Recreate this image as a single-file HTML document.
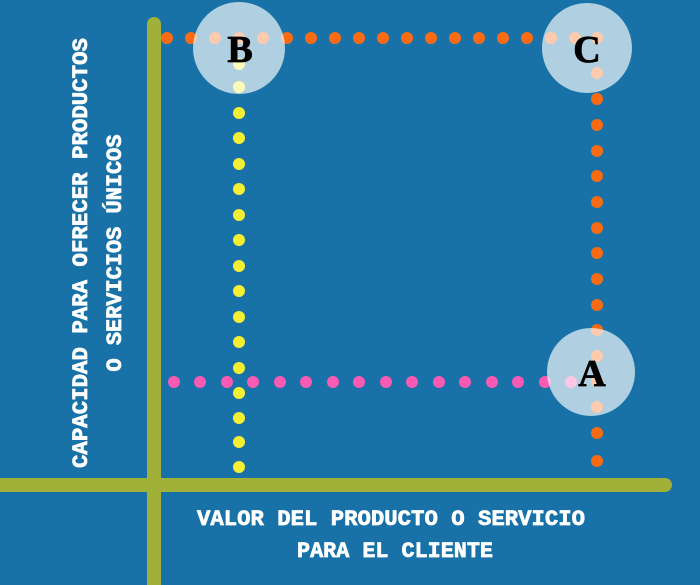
<!DOCTYPE html>
<html><head><meta charset="utf-8"><style>
html,body{margin:0;padding:0;background:#1872a8;}
svg{display:block}
text{font-family:"Liberation Mono",monospace;font-weight:bold;fill:#fff}
</style></head><body>
<svg width="700" height="585" viewBox="0 0 700 585" xmlns="http://www.w3.org/2000/svg">
<rect width="700" height="585" fill="#1872a8"/>
<line x1="154" y1="24" x2="154" y2="585" stroke="#a0b038" stroke-width="14" stroke-linecap="round"/>
<line x1="0" y1="485" x2="665" y2="485" stroke="#a0b038" stroke-width="14" stroke-linecap="round"/>
<g fill="#f86b12">
<circle cx="167" cy="38" r="6"/><circle cx="191" cy="38" r="6"/><circle cx="215" cy="38" r="6"/><circle cx="239" cy="38" r="6"/><circle cx="263" cy="38" r="6"/><circle cx="287" cy="38" r="6"/><circle cx="311" cy="38" r="6"/><circle cx="335" cy="38" r="6"/><circle cx="359" cy="38" r="6"/><circle cx="383" cy="38" r="6"/><circle cx="407" cy="38" r="6"/><circle cx="431" cy="38" r="6"/><circle cx="455" cy="38" r="6"/><circle cx="479" cy="38" r="6"/><circle cx="503" cy="38" r="6"/><circle cx="527" cy="38" r="6"/><circle cx="551" cy="38" r="6"/><circle cx="575" cy="38" r="6"/><circle cx="597" cy="38" r="6"/>
<circle cx="597" cy="73" r="6"/><circle cx="597" cy="99" r="6"/><circle cx="597" cy="125" r="6"/><circle cx="597" cy="151" r="6"/><circle cx="597" cy="176" r="6"/><circle cx="597" cy="202" r="6"/><circle cx="597" cy="228" r="6"/><circle cx="597" cy="253" r="6"/><circle cx="597" cy="279" r="6"/><circle cx="597" cy="305" r="6"/><circle cx="597" cy="330" r="6"/><circle cx="597" cy="356" r="6"/><circle cx="597" cy="381" r="6"/><circle cx="597" cy="407" r="6"/><circle cx="597" cy="433" r="6"/><circle cx="597" cy="461" r="6"/>
</g>
<g fill="#f5ef33">
<circle cx="239" cy="64" r="6"/><circle cx="239" cy="87" r="6"/><circle cx="239" cy="113" r="6"/><circle cx="239" cy="138" r="6"/><circle cx="239" cy="164" r="6"/><circle cx="239" cy="189" r="6"/><circle cx="239" cy="215" r="6"/><circle cx="239" cy="240" r="6"/><circle cx="239" cy="266" r="6"/><circle cx="239" cy="291" r="6"/><circle cx="239" cy="317" r="6"/><circle cx="239" cy="342" r="6"/><circle cx="239" cy="368" r="6"/><circle cx="239" cy="393" r="6"/><circle cx="239" cy="418" r="6"/><circle cx="239" cy="442" r="6"/><circle cx="239" cy="467" r="6"/>
</g>
<g fill="#f85ab4">
<circle cx="174" cy="382" r="6"/><circle cx="200" cy="382" r="6"/><circle cx="227" cy="382" r="6"/><circle cx="253" cy="382" r="6"/><circle cx="280" cy="382" r="6"/><circle cx="306" cy="382" r="6"/><circle cx="333" cy="382" r="6"/><circle cx="359" cy="382" r="6"/><circle cx="386" cy="382" r="6"/><circle cx="412" cy="382" r="6"/><circle cx="439" cy="382" r="6"/><circle cx="465" cy="382" r="6"/><circle cx="492" cy="382" r="6"/><circle cx="518" cy="382" r="6"/><circle cx="545" cy="382" r="6"/><circle cx="571" cy="382" r="6"/>
</g>
<g fill="#ffffff" fill-opacity="0.66">
<circle cx="239" cy="48" r="46"/>
<circle cx="587" cy="48" r="45"/>
<circle cx="591" cy="372" r="44"/>
</g>
<g font-size="38" text-anchor="middle">
<text x="240" y="62" style="font-family:'Liberation Serif',serif;fill:#000;stroke:#000;stroke-width:0.8">B</text>
<text x="587" y="62" style="font-family:'Liberation Serif',serif;fill:#000;stroke:#000;stroke-width:0.8">C</text>
<text x="592" y="386" style="font-family:'Liberation Serif',serif;fill:#000;stroke:#000;stroke-width:0.8">A</text>
</g>
<g font-size="22" text-anchor="middle" stroke="#fff" stroke-width="0.7">
<text x="391" y="525" textLength="388" lengthAdjust="spacingAndGlyphs">VALOR DEL PRODUCTO O SERVICIO</text>
<text x="395" y="557" textLength="196" lengthAdjust="spacingAndGlyphs">PARA EL CLIENTE</text>
<text transform="translate(87,253) rotate(-90)" textLength="430" lengthAdjust="spacingAndGlyphs">CAPACIDAD PARA OFRECER PRODUCTOS</text>
<text transform="translate(121,253) rotate(-90)" textLength="237" lengthAdjust="spacingAndGlyphs">O SERVICIOS ÚNICOS</text>
</g>
</svg>
</body></html>
